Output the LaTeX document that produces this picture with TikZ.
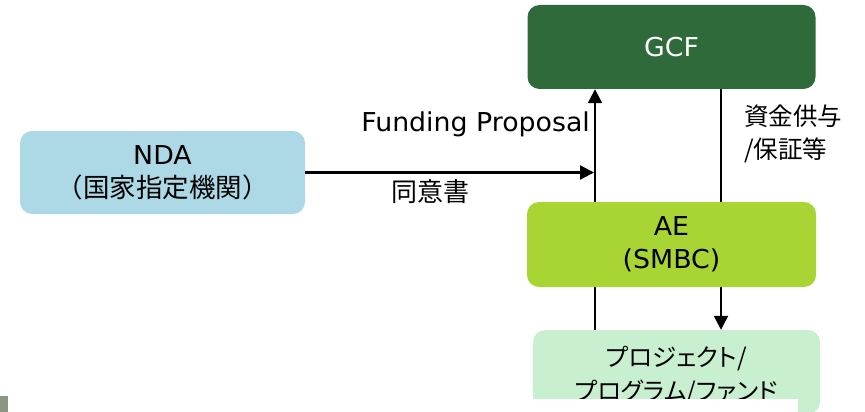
\documentclass[tikz,border=0pt]{standalone}
\usepackage{fontspec}
\setmainfont{DejaVu Sans}[FakeStretch=1.03]
\newfontfamily\jp{Noto Sans CJK JP}
\newfontfamily\jpp{Noto Sans CJK JP}[RawFeature=+palt]
\usetikzlibrary{arrows.meta}
\definecolor{gcfgreen}{RGB}{47,107,58}
\definecolor{aelime}{RGB}{168,212,52}
\definecolor{ndablue}{RGB}{173,216,230}
\definecolor{projgreen}{RGB}{200,240,208}
\definecolor{bulletgray}{RGB}{138,150,128}
\tikzset{
  box/.style={rounded corners=12pt, inner sep=0pt, align=center, font=\fontsize{26}{33}\selectfont},
  arr/.style={line width=2.3pt, -{Triangle[width=14pt,length=14pt]}},
  lbl/.style={inner sep=0pt, font=\fontsize{26}{34}\selectfont}
}
\begin{document}
\begin{tikzpicture}[x=1pt,y=-1pt]
\useasboundingbox (0,0) rectangle (865,412);
\node[box, fill=gcfgreen, text=white, minimum width=288pt, minimum height=84pt] (gcf) at (671.5,47) {GCF};
\node[box, fill=ndablue, minimum width=285pt, minimum height=83pt] (nda) at (162.5,172.5) {NDA\\{\fontsize{26.5}{33}\selectfont\jp （国家指定機関）}};
\node[box, fill=projgreen, minimum width=287pt, minimum height=84pt] (proj) at (676.5,372) {};
\node[lbl, font=\fontsize{24.5}{34}\selectfont\jpp, align=center] (projtxt) at (676.5,376) {プロジェクト/\\プログラム/ファンド};
\coordinate (xl) at (595,0);
\coordinate (xr) at (721,0);
\draw[arr] (xl |- proj.north) -- (xl |- gcf.south);
\draw[arr] (xr |- gcf.south) -- (xr |- proj.north);
\draw[arr, shorten >=1pt] (nda.east) -- (xl |- nda.east);
\node[box, fill=aelime, minimum width=289pt, minimum height=85pt] (ae) at (671.5,244.5) {AE\\(SMBC)};
\node[lbl, anchor=east] (fp) at (590,124) {Funding Proposal};
\node[lbl, font=\fontsize{26}{34}\selectfont\jp] (doi) at (430,192) {同意書};
\node[lbl, anchor=west, font=\fontsize{24.5}{33}\selectfont\jp, align=left] (shikin) at (744,134) {資金供与\\/保証等};
% cut-off strip at the bottom
\fill[white] (0,399) rectangle (798,412);
\fill[bulletgray] (0,396) rectangle (8,412);
\end{tikzpicture}
\end{document}
